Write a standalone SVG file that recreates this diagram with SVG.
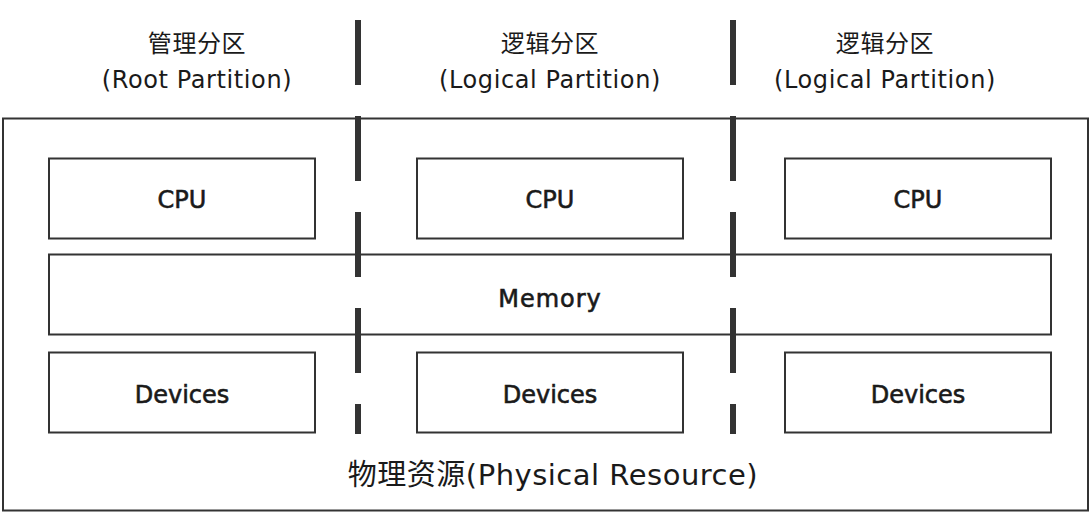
<svg xmlns="http://www.w3.org/2000/svg" width="1090" height="520" viewBox="0 0 1090 520">
<style>
.box{fill:none;stroke:#333;stroke-width:2}
.t{font-family:"DejaVu Sans","Noto Sans CJK SC",sans-serif;fill:#1a1a1a;text-anchor:middle}
.lbl{font-size:24px;stroke:#1a1a1a;stroke-width:0.6}
.ttl{font-size:24px;letter-spacing:0.6px}
.sep{stroke:#333;stroke-width:6;stroke-dasharray:65 31;fill:none}
</style>
<rect width="1090" height="520" fill="#fff"/>
<g id="physical">
<rect class="box" x="3" y="118.5" width="1085" height="392"/>
<text class="t" x="553" y="485" style="font-size:29px;letter-spacing:0.5px">物理资源(Physical Resource)</text>
</g>
<g id="title-root">
<text class="t ttl" x="197" y="52">管理分区</text>
<text class="t ttl" x="197" y="88">(Root Partition)</text>
</g>
<g id="title-logical-1">
<text class="t ttl" x="550" y="52">逻辑分区</text>
<text class="t ttl" x="550" y="88">(Logical Partition)</text>
</g>
<g id="title-logical-2">
<text class="t ttl" x="885" y="52">逻辑分区</text>
<text class="t ttl" x="885" y="88">(Logical Partition)</text>
</g>
<g id="cpu-1"><rect class="box" x="49" y="158.5" width="266" height="80"/><text class="t lbl" x="182" y="208">CPU</text></g>
<g id="cpu-2"><rect class="box" x="417" y="158.5" width="266" height="80"/><text class="t lbl" x="550" y="208">CPU</text></g>
<g id="cpu-3"><rect class="box" x="785" y="158.5" width="266" height="80"/><text class="t lbl" x="918" y="208">CPU</text></g>
<g id="memory"><rect class="box" x="49" y="254.5" width="1002" height="80"/><text class="t lbl" x="550" y="307" style="letter-spacing:1px">Memory</text></g>
<g id="devices-1"><rect class="box" x="49" y="352.5" width="266" height="80"/><text class="t lbl" x="182" y="403">Devices</text></g>
<g id="devices-2"><rect class="box" x="417" y="352.5" width="266" height="80"/><text class="t lbl" x="550" y="403">Devices</text></g>
<g id="devices-3"><rect class="box" x="785" y="352.5" width="266" height="80"/><text class="t lbl" x="918" y="403">Devices</text></g>
<g id="connectors">
<line class="sep" x1="358" y1="20" x2="358" y2="434"/>
<line class="sep" x1="733" y1="20" x2="733" y2="434"/>
</g>
</svg>
